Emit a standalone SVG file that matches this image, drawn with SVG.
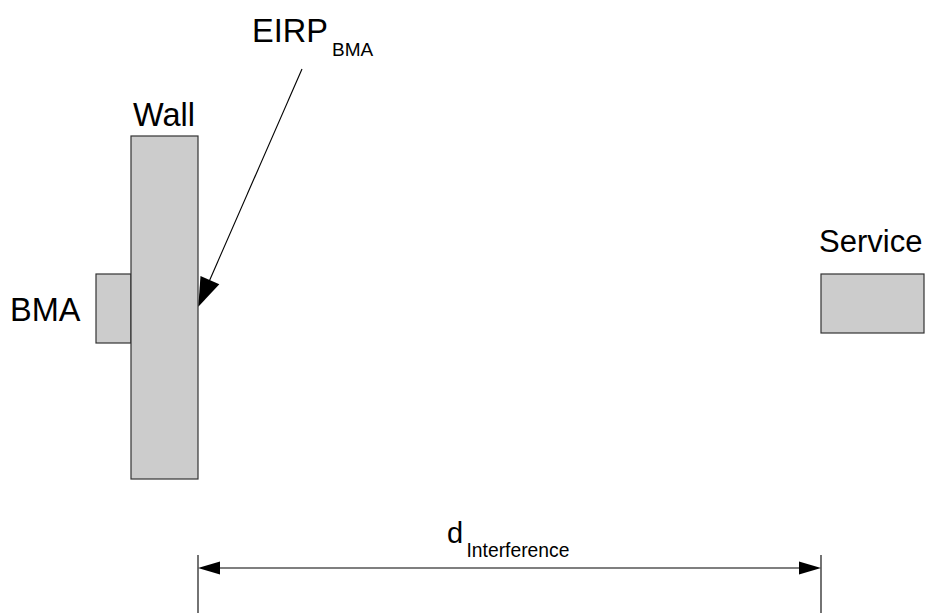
<svg xmlns="http://www.w3.org/2000/svg" width="930" height="613" viewBox="0 0 930 613">
<style>
.box{fill:#cccccc;stroke:#333333;stroke-width:1.2}
.t{font-family:"Liberation Sans",Arial,sans-serif;fill:#000000}
.ln{stroke:#000000;stroke-width:1.1;fill:none}
.ah{fill:#000000;stroke:none}
</style>
<rect width="930" height="613" fill="#ffffff"/>
<g id="bma">
<rect class="box" x="96" y="274" width="35" height="69"/>
<text class="t" x="10" y="321" font-size="32.5">BMA</text>
</g>
<g id="wall">
<rect class="box" x="131" y="136" width="67" height="343"/>
<text class="t" x="133" y="126" font-size="32.5">Wall</text>
</g>
<g id="service">
<rect class="box" x="821" y="274" width="103" height="59"/>
<text class="t" x="819" y="252" font-size="31">Service</text>
</g>
<g id="eirp-label">
<text class="t" x="252" y="42" font-size="32.5">EIRP</text>
<text class="t" x="332" y="56" font-size="19">BMA</text>
</g>
<g id="d-label">
<text class="t" x="447" y="543" font-size="29">d</text>
<text class="t" x="466.5" y="557" font-size="19.3">Interference</text>
</g>
<g id="connectors">
<line class="ln" x1="302" y1="69" x2="208" y2="284"/>
<polygon class="ah" points="198.3,306.7 200.5,276 219.3,284.2"/>
<line class="ln" x1="198" y1="555" x2="198" y2="613"/>
<line class="ln" x1="821" y1="555" x2="821" y2="613"/>
<line class="ln" x1="215" y1="568" x2="805" y2="568"/>
<polygon class="ah" points="198,568 220,561.5 220,574.5"/>
<polygon class="ah" points="821,568 799,561.5 799,574.5"/>
</g>
</svg>
